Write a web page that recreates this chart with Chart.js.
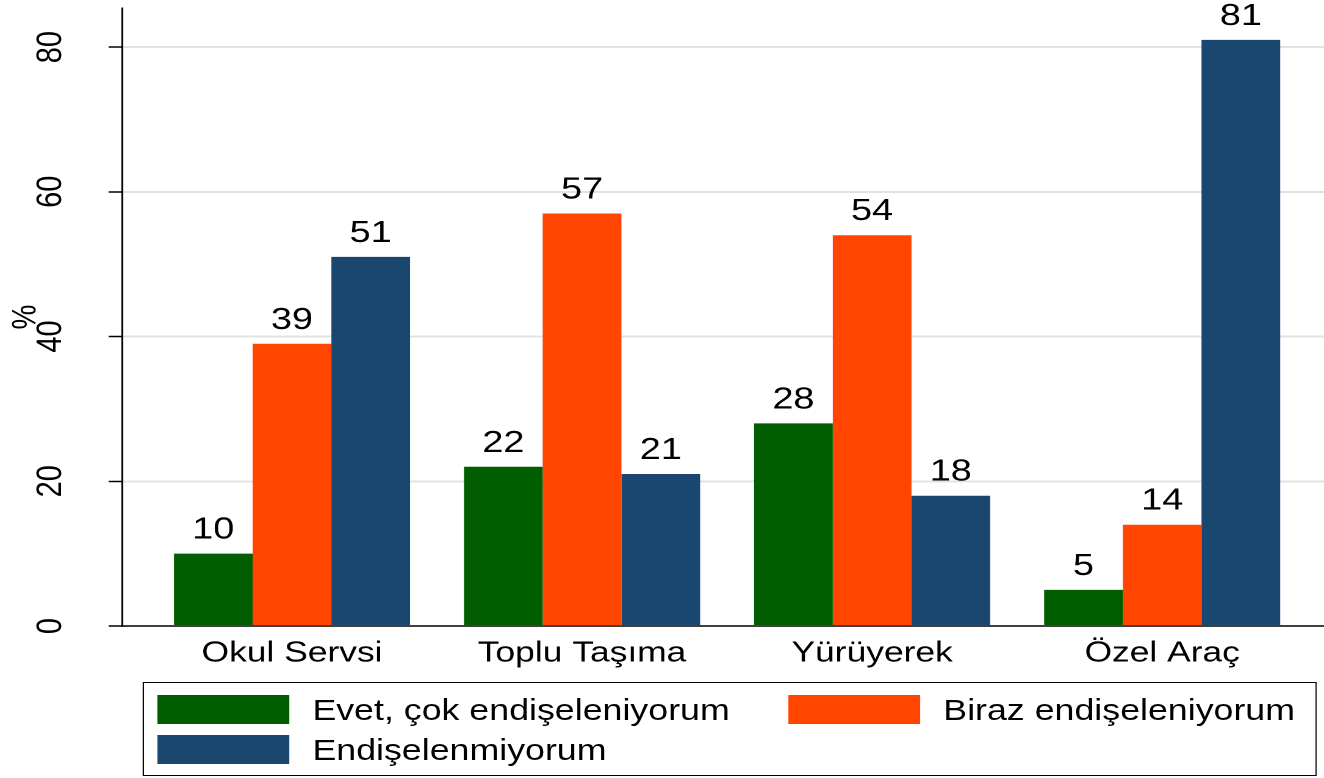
<!DOCTYPE html>
<html lang="tr">
<head>
<meta charset="UTF-8">
<title>Ulaşım türüne göre endişe</title>
<script src="https://cdn.jsdelivr.net/npm/chart.js"></script>
<style>
  body {
    margin: 0;
    background: #fff;
    font-family: "Liberation Sans", Arial, sans-serif;
    overflow: hidden;
  }
  /* the figure is laid out narrow, then widened */
  .stage {
    position: relative;
    width: 1085px;
    height: 778px;
    transform: scaleX(1.2203);
    transform-origin: 0 0;
  }
  .chart-box {
    position: absolute;
    left: 0;
    top: 0;
    width: 1085px;
    height: 680px;
  }
  #legend {
    position: absolute;
    left: 117px;
    top: 682px;
    width: 962px;
    height: 94px;
    border: 1px solid #000;
    box-sizing: border-box;
    padding: 12px 0 0 11px;
  }
  #legend ul {
    display: grid;
    grid-template-columns: 517px auto;
    grid-auto-rows: 40px;
    margin: 0;
    padding: 0;
    list-style: none;
  }
  #legend li {
    display: flex;
    align-items: center;
    height: 29px;
    font-size: 29.3px;
    color: #000;
    white-space: nowrap;
  }
  #legend .swatch {
    width: 108px;
    height: 29px;
    margin-right: 19px;
  }
</style>
</head>
<body>
<div class="stage">
  <div class="chart-box"><canvas id="chart"></canvas></div>
  <div id="legend"></div>
</div>

<script>
const categories = ['Okul Servsi', 'Toplu Taşıma', 'Yürüyerek', 'Özel Araç'];
const seriesNames = ['Evet, çok endişeleniyorum', 'Biraz endişeleniyorum', 'Endişelenmiyorum'];
const veryWorried = [10, 22, 28, 5];
const somewhatWorried = [39, 57, 54, 14];
const notWorried = [51, 21, 18, 81];
const yTicks = [0, 20, 40, 60, 80];
const seriesColors = ['#005e00', '#ff4500', '#1a476f'];

const FONT = '"Liberation Sans", Arial, sans-serif';

// numbers printed above each bar
const valueLabels = {
  id: 'valueLabels',
  afterDatasetsDraw(chart) {
    const ctx = chart.ctx;
    ctx.save();
    ctx.font = '31px ' + FONT;
    ctx.fillStyle = '#000';
    ctx.textAlign = 'center';
    ctx.textBaseline = 'alphabetic';
    chart.data.datasets.forEach((ds, i) => {
      chart.getDatasetMeta(i).data.forEach((bar, j) => {
        ctx.fillText(ds.data[j], bar.x, bar.y - 15);
      });
    });
    ctx.restore();
  }
};

const seriesData = [veryWorried, somewhatWorried, notWorried];

const chart = new Chart(document.getElementById('chart'), {
  type: 'bar',
  data: {
    labels: categories,
    datasets: seriesNames.map((name, i) => ({
      label: name,
      data: seriesData[i],
      backgroundColor: seriesColors[i],
      borderWidth: 0,
      categoryPercentage: 0.814,
      barPercentage: 1
    }))
  },
  options: {
    responsive: true,
    maintainAspectRatio: false,
    devicePixelRatio: 2,
    animation: false,
    layout: { padding: { top: 8, right: 0, bottom: 0, left: 0 } },
    plugins: {
      legend: { display: false },
      tooltip: { enabled: false }
    },
    scales: {
      x: {
        offset: true,
        grid: { drawOnChartArea: false, drawTicks: false },
        border: { color: '#404040', width: 2 },
        ticks: { font: { family: FONT, size: 29 }, color: '#000', padding: 10, maxRotation: 0 },
        // leave a wider margin before the first group than after the last
        afterBuildTicks: s => { s._startValue = -0.586; s._valueRange = 4.144; },
        afterFit: s => { s.height = 54; }
      },
      y: {
        min: 0,
        max: 85.4,
        afterBuildTicks: s => { s.ticks = yTicks.map(v => ({ value: v })); },
        // rotated labels would otherwise push the plot down
        afterFit: s => { s.width = 100; s.paddingTop = 0; s.paddingBottom = 0; },
        grid: {
          color: c => (c.tick && c.tick.value === 0) ? 'rgba(0,0,0,0)' : '#e2e2e2',
          lineWidth: 2,
          tickColor: '#000',
          tickWidth: 1.5,
          tickLength: 11
        },
        border: { color: '#000', width: 1.5 },
        ticks: {
          minRotation: 90,
          maxRotation: 90,
          crossAlign: 'center',
          padding: 31,
          font: { family: FONT, size: 29 },
          color: '#000'
        },
        title: {
          display: true,
          text: '%',
          font: { family: FONT, size: 28 },
          color: '#000',
          padding: { top: 4.5, bottom: 0 }
        }
      }
    }
  },
  plugins: [valueLabels]
});

// two-column legend built from the datasets
function buildLegend(chart) {
  const ul = document.createElement('ul');
  chart.data.datasets.forEach(ds => {
    const li = document.createElement('li');
    const sw = document.createElement('span');
    sw.className = 'swatch';
    sw.style.background = ds.backgroundColor;
    li.appendChild(sw);
    li.appendChild(document.createTextNode(ds.label));
    ul.appendChild(li);
  });
  document.getElementById('legend').appendChild(ul);
}
buildLegend(chart);
</script>
</body>
</html>
